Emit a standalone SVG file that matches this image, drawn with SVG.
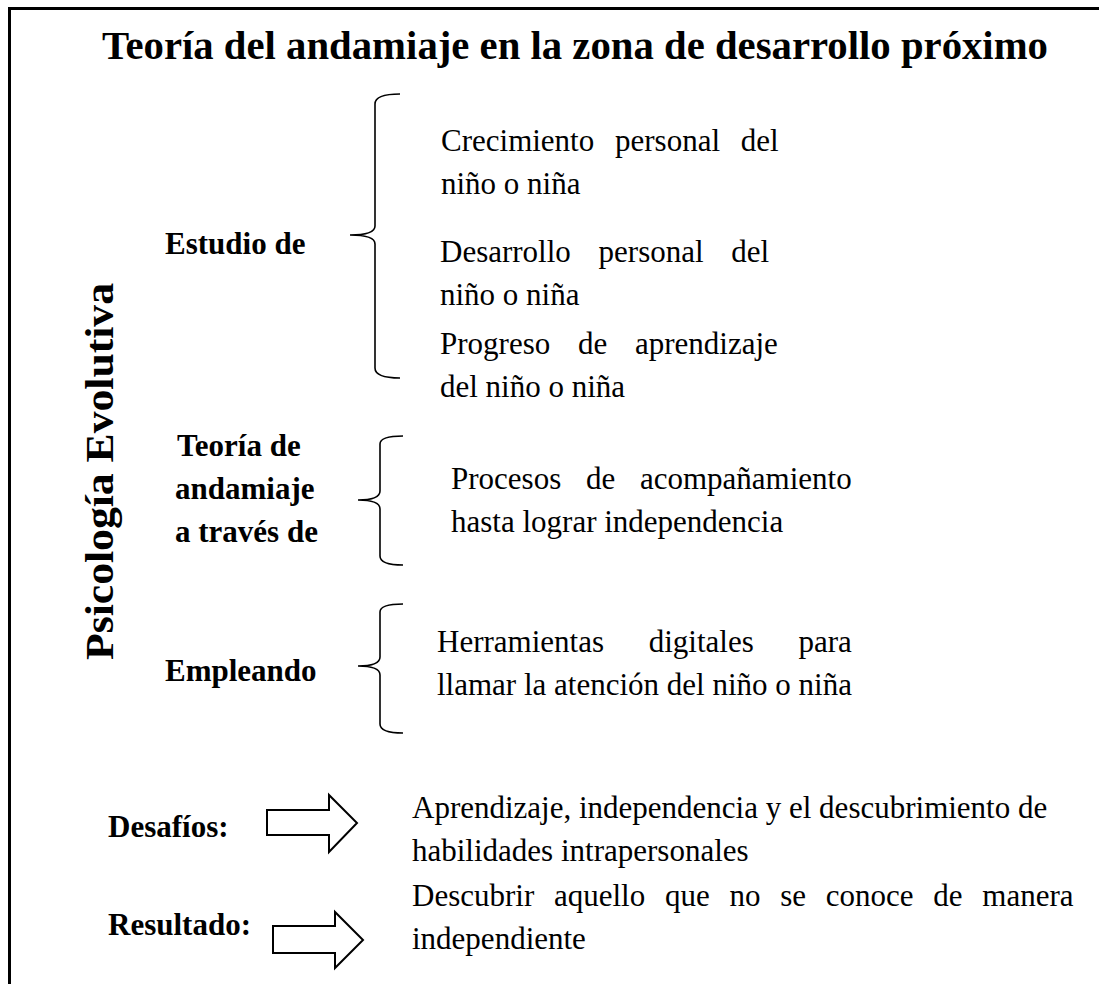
<svg xmlns="http://www.w3.org/2000/svg" width="1099" height="984" viewBox="0 0 1099 984">
<style>
  .t{font-family:"Liberation Serif","Times New Roman",serif;font-size:31px;fill:#000}
  .b{font-family:"Liberation Serif","Times New Roman",serif;font-size:31px;font-weight:bold;fill:#000}
  .title{font-family:"Liberation Serif","Times New Roman",serif;font-size:40px;font-weight:bold;fill:#000}
  .brace{fill:none;stroke:#000;stroke-width:1.6}
  .arrow{fill:#fff;stroke:#000;stroke-width:2;stroke-linejoin:miter}
</style>
<rect width="1099" height="984" fill="#fff"/>
<path d="M9.5,984 V8.5 H1099" fill="none" stroke="#000" stroke-width="3"/>

<g id="title"><text class="title" x="102" y="59" textLength="946" lengthAdjust="spacingAndGlyphs">Teoría del andamiaje en la zona de desarrollo próximo</text></g>

<g id="side-label"><text class="title" transform="translate(113,660) rotate(-90)" x="0" y="0" textLength="377" lengthAdjust="spacingAndGlyphs" font-size="39">Psicología Evolutiva</text></g>

<g id="estudio">
  <text class="b" x="165" y="254">Estudio de</text>
</g>
<g id="estudio-items">
  <text class="t" x="441" y="151" word-spacing="13">Crecimiento personal del</text>
  <text class="t" x="441" y="194">niño o niña</text>
  <text class="t" x="440" y="262" word-spacing="20">Desarrollo personal del</text>
  <text class="t" x="440" y="305">niño o niña</text>
  <text class="t" x="440" y="354" word-spacing="20">Progreso de aprendizaje</text>
  <text class="t" x="440" y="397">del niño o niña</text>
</g>

<g id="teoria">
  <text class="b" x="177" y="456">Teoría de</text>
  <text class="b" x="175" y="499">andamiaje</text>
  <text class="b" x="175" y="542">a través de</text>
</g>
<g id="teoria-items">
  <text class="t" x="451" y="489" word-spacing="17">Procesos de acompañamiento</text>
  <text class="t" x="451" y="532">hasta lograr independencia</text>
</g>

<g id="empleando">
  <text class="b" x="165" y="681">Empleando</text>
</g>
<g id="empleando-items">
  <text class="t" x="437" y="652" word-spacing="37">Herramientas digitales para</text>
  <text class="t" x="437" y="695">llamar la atención del niño o niña</text>
</g>

<g id="desafios">
  <text class="b" x="108" y="837">Desafíos:</text>
  <text class="t" x="412" y="818">Aprendizaje, independencia y el descubrimiento de</text>
  <text class="t" x="412" y="861">habilidades intrapersonales</text>
</g>

<g id="resultado">
  <text class="b" x="108" y="935">Resultado:</text>
  <text class="t" x="412" y="906" word-spacing="12">Descubrir aquello que no se conoce de manera</text>
  <text class="t" x="412" y="949">independiente</text>
</g>

<g id="connectors">
  <path class="brace" d="M400,94 Q375,94 375,104 V226 Q375,235 350,235 Q375,235 375,244 V368 Q375,378 400,378"/>
  <path class="brace" d="M403,436 Q380,436 380,444 V491 Q380,500 358,500 Q380,500 380,509 V556 Q380,565 403,565"/>
  <path class="brace" d="M403,604 Q380,604 380,612 V657 Q380,666 358,666 Q380,666 380,675 V724 Q380,733 403,733"/>
  <path class="arrow" d="M267,810 H329 V795 L357,823 L329,852 V835 H267 Z"/>
  <path class="arrow" d="M273,926 H335 V912 L363,940 L335,968 V953 H273 Z"/>
</g>
</svg>
